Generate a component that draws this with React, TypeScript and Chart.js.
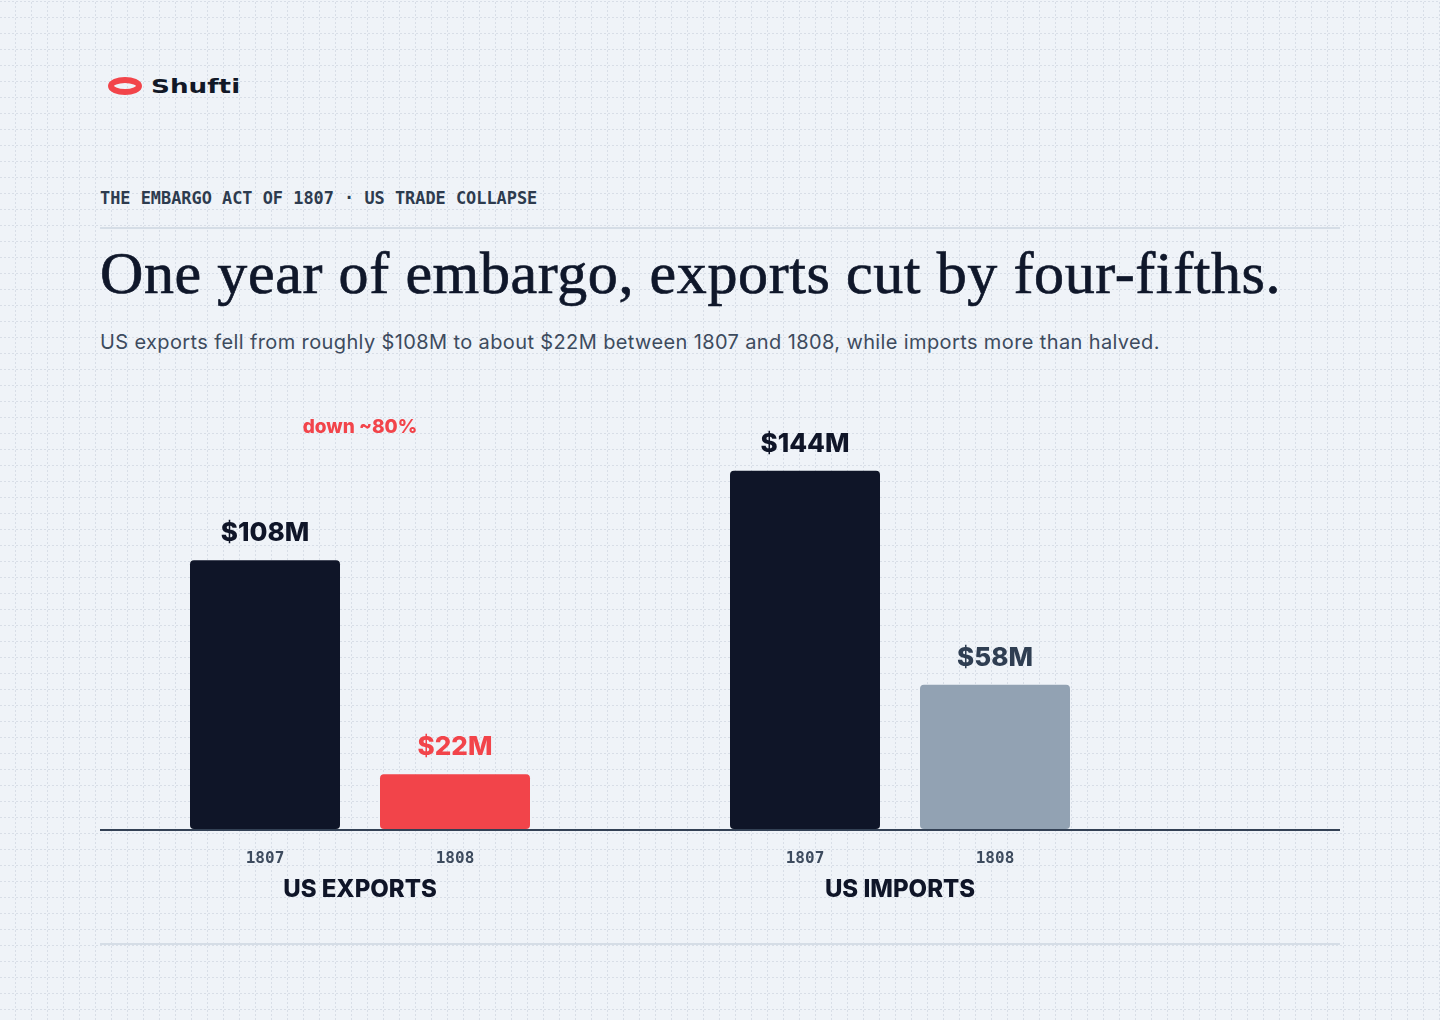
import React, { useEffect, useRef } from "react";
import { Chart, registerables } from "chart.js";

Chart.register(...registerables);

const groups = ["US EXPORTS", "US IMPORTS"];
const years = ["1807", "1808"];
const values1807 = [108, 144];
const values1808 = [22, 58];
const valueLabels1807 = ["$108M", "$144M"];
const valueLabels1808 = ["$22M", "$58M"];
const annotationText = "down ~80%";

const KICKER = "THE EMBARGO ACT OF 1807 · US TRADE COLLAPSE";
const TITLE = "One year of embargo, exports cut by four-fifths.";
const SUBTITLE =
  "US exports fell from roughly $108M to about $22M between 1807 and 1808, while imports more than halved.";

const DARK = "#0f1528";
const RED = "#f2444a";
const GRAY = "#92a2b3";
const SLATE = "#334155";

const gridSvg =
  "data:image/svg+xml;utf8," +
  encodeURIComponent(
    `<svg xmlns="http://www.w3.org/2000/svg" width="16" height="16"><path d="M15.5 0V16" stroke="#d8dee7" stroke-width="1" stroke-dasharray="2 2"/><path d="M0 15.5H16" stroke="#d8dee7" stroke-width="1" stroke-dasharray="2 2"/></svg>`
  );

const labelsPlugin = {
  id: "customLabels",
  afterDatasetsDraw(chart: any) {
    const ctx = chart.ctx;
    const yScale = chart.scales.y;
    const base = yScale.getPixelForValue(0);
    ctx.save();
    // baseline axis
    ctx.strokeStyle = SLATE;
    ctx.lineWidth = 2;
    ctx.beginPath();
    ctx.moveTo(10, base + 1);
    ctx.lineTo(1250, base + 1);
    ctx.stroke();

    const valueColors = [
      [DARK, DARK],
      [RED, "#2f3e52"],
    ];
    const valueLabels = [valueLabels1807, valueLabels1808];
    chart.data.datasets.forEach((ds: any, di: number) => {
      const meta = chart.getDatasetMeta(di);
      meta.data.forEach((bar: any, i: number) => {
        ctx.font = "800 26px Inter";
        ctx.textAlign = "center";
        ctx.textBaseline = "alphabetic";
        ctx.fillStyle = valueColors[di][i];
        ctx.fillText(valueLabels[di][i], bar.x, bar.y - 19);
        ctx.font = "700 16px 'DejaVu Sans Mono'";
        ctx.fillStyle = "#3d4b5e";
        ctx.textBaseline = "middle";
        ctx.fillText(years[di], bar.x, base + 30);
      });
    });
    const xScale = chart.scales.x;
    groups.forEach((g, i) => {
      const x = xScale.getPixelForValue(i);
      ctx.font = "800 24px Inter";
      ctx.fillStyle = DARK;
      ctx.textAlign = "center";
      ctx.textBaseline = "middle";
      ctx.fillText(g, x, base + 61);
    });
    // annotation
    const ax = xScale.getPixelForValue(0);
    ctx.font = "800 19px Inter";
    ctx.fillStyle = RED;
    ctx.textAlign = "center";
    ctx.textBaseline = "middle";
    ctx.fillText(annotationText, ax, chart.chartArea.top - 4);
    ctx.restore();
  },
};

function BarChart() {
  const ref = useRef<HTMLCanvasElement | null>(null);
  useEffect(() => {
    if (!ref.current) return;
    const chart = new Chart(ref.current, {
      type: "bar",
      data: {
        labels: groups,
        datasets: [
          {
            label: years[0],
            data: values1807,
            backgroundColor: [DARK, DARK],
            borderRadius: 4,
            borderSkipped: false,
            categoryPercentage: 380 / 540,
            barPercentage: 150 / 190,
          },
          {
            label: years[1],
            data: values1808,
            backgroundColor: [RED, GRAY],
            borderRadius: 4,
            borderSkipped: false,
            categoryPercentage: 380 / 540,
            barPercentage: 150 / 190,
          },
        ],
      },
      options: {
        animation: false,
        responsive: false,
        maintainAspectRatio: false,
        layout: { padding: { left: 0, right: 170, top: 51, bottom: 91 } },
        plugins: {
          legend: { display: false },
          tooltip: { enabled: false },
        },
        scales: {
          x: { display: false },
          y: { display: false, min: 0, max: 160 },
        },
      },
      plugins: [labelsPlugin],
    });
    return () => chart.destroy();
  }, []);
  return (
    <canvas
      ref={ref}
      width={1250}
      height={540}
      style={{ position: "absolute", left: 90, top: 380, width: 1250, height: 540 }}
    />
  );
}

export default function App() {
  return (
    <div
      style={{
        position: "absolute",
        left: 0,
        top: 0,
        width: 1440,
        height: 1020,
        overflow: "hidden",
        backgroundColor: "#eff3f8",
        backgroundImage: `url("${gridSvg}")`,
        backgroundPosition: "0px 2px",
        fontFamily: "Inter, sans-serif",
      }}
    >
      <div style={{ position: "absolute", left: 107, top: 76, display: "flex", alignItems: "center" }}>
        <svg width="38" height="20" viewBox="0 0 38 20">
          <ellipse cx="18" cy="10" rx="14" ry="6" fill="none" stroke="#f2444a" strokeWidth="6" />
        </svg>
        <span
          style={{
            marginLeft: 6,
            fontFamily: "'DejaVu Sans', sans-serif",
            fontWeight: 700,
            fontSize: 19,
            color: "#111827",
            lineHeight: "20px",
            display: "inline-block",
            transform: "scaleX(1.38)",
            transformOrigin: "left center",
          }}
        >
          Shufti
        </span>
      </div>
      <div
        style={{
          position: "absolute",
          left: 100,
          top: 186,
          fontFamily: "'DejaVu Sans Mono', monospace",
          fontWeight: 700,
          fontSize: 16.9,
          color: "#2d3b4e",
          whiteSpace: "nowrap",
          lineHeight: "24px",
        }}
      >
        {KICKER}
      </div>
      <div style={{ position: "absolute", left: 100, top: 227, width: 1240, height: 2, background: "#d5dde6" }} />
      <div
        style={{
          position: "absolute",
          left: 100,
          top: 236,
          fontFamily: "'Liberation Serif', serif",
          fontSize: 60,
          letterSpacing: 0.6,
          color: "#0f172a",
          WebkitTextStroke: "0.7px #0f172a",
          whiteSpace: "nowrap",
          lineHeight: "74px",
        }}
      >
        {TITLE}
      </div>
      <div
        style={{
          position: "absolute",
          left: 100,
          top: 328,
          fontFamily: "Inter, sans-serif",
          fontSize: 20,
          letterSpacing: 0.38,
          color: "#3d4b5e",
          whiteSpace: "nowrap",
          lineHeight: "28px",
        }}
      >
        {SUBTITLE}
      </div>
      <BarChart />
      <div style={{ position: "absolute", left: 100, top: 943, width: 1240, height: 2, background: "#d5dde6" }} />
    </div>
  );
}
